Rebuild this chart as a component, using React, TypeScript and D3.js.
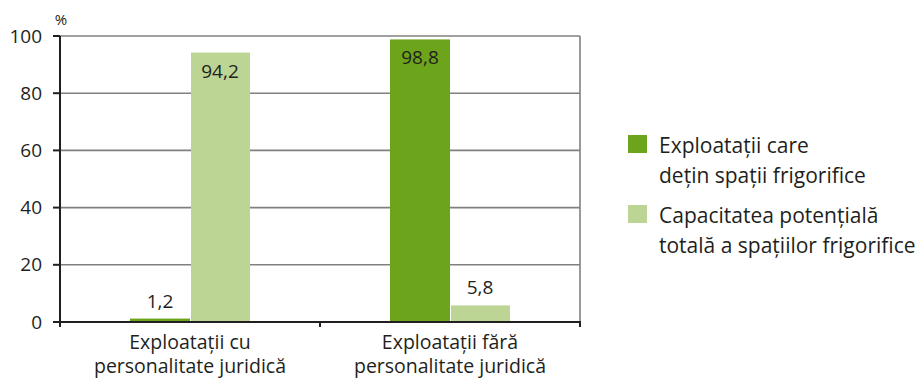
import { useEffect, useRef } from "react"
import * as d3 from "d3"

const categories = [
  ["Exploatații cu", "personalitate juridică"],
  ["Exploatații fără", "personalitate juridică"],
]
const seriesNames = [
  ["Exploatații care", "dețin spații frigorifice"],
  ["Capacitatea potențială", "totală a spațiilor frigorifice"],
]
const holdingsWithCold = [1.2, 98.8]
const potentialCapacity = [94.2, 5.8]
const yTicks = [0, 20, 40, 60, 80, 100]
const colors = ["#6ca51b", "#bcd595"]

const font = "'Open Sans', sans-serif"

export default function App() {
  const ref = useRef<SVGSVGElement>(null)

  useEffect(() => {
    const svg = d3.select(ref.current)
    svg.selectAll("*").remove()

    const left = 60, right = 580, top = 36, bottom = 322

    const x0 = d3.scaleBand<number>().domain(categories.map((_, i) => i)).range([left, right])
    const x1 = d3.scaleBand<number>().domain([0, 1]).range([70, 190])
    const y = d3.scaleLinear().domain([0, 100]).range([bottom, top])

    const series = [holdingsWithCold, potentialCapacity]

    // gridlines
    svg
      .append("g")
      .selectAll("line")
      .data(yTicks.filter((t) => t > 0))
      .enter()
      .append("line")
      .attr("x1", left)
      .attr("x2", right)
      .attr("y1", (d) => y(d))
      .attr("y2", (d) => y(d))
      .attr("stroke", "#808080")
      .attr("stroke-width", 1.6)

    // right border
    svg
      .append("line")
      .attr("x1", right)
      .attr("x2", right)
      .attr("y1", top)
      .attr("y2", bottom)
      .attr("stroke", "#808080")
      .attr("stroke-width", 1.6)

    // bars
    series.forEach((vals, s) => {
      svg
        .append("g")
        .selectAll("rect")
        .data(vals)
        .enter()
        .append("rect")
        .attr("x", (_, i) => (x0(i) || 0) + (x1(s) || 0) + (s === 1 ? 1 : 0))
        .attr("width", x1.bandwidth() - (s === 1 ? 1 : 0))
        .attr("y", (d) => y(d))
        .attr("height", (d) => bottom - y(d))
        .attr("fill", colors[s])
    })

    // value labels
    series.forEach((vals, s) => {
      svg
        .append("g")
        .selectAll("text")
        .data(vals)
        .enter()
        .append("text")
        .attr("x", (_, i) => (x0(i) || 0) + (x1(s) || 0) + x1.bandwidth() / 2)
        .attr("y", (d) => (d > 90 ? y(d) + 25 : y(d) - 11))
        .attr("text-anchor", "middle")
        .attr("font-family", font)
        .attr("font-size", 19)
        .attr("fill", "#231f20")
        .text((d) => d.toFixed(1).replace(".", ","))
    })

    // y axis
    svg
      .append("line")
      .attr("x1", left)
      .attr("x2", left)
      .attr("y1", top)
      .attr("y2", bottom + 1)
      .attr("stroke", "#231f20")
      .attr("stroke-width", 2)
    const yt = svg.append("g")
    yTicks.forEach((t) => {
      yt.append("line")
        .attr("x1", 53)
        .attr("x2", left)
        .attr("y1", y(t))
        .attr("y2", y(t))
        .attr("stroke", "#231f20")
        .attr("stroke-width", 2)
      yt.append("text")
        .attr("x", 42)
        .attr("y", y(t) + 6.5)
        .attr("text-anchor", "end")
        .attr("font-family", font)
        .attr("font-size", 19)
        .attr("fill", "#231f20")
        .text(t)
    })
    svg
      .append("text")
      .attr("x", 61)
      .attr("y", 25)
      .attr("text-anchor", "middle")
      .attr("font-family", font)
      .attr("font-size", 15)
      .attr("fill", "#231f20")
      .text("%")

    // x axis
    svg
      .append("line")
      .attr("x1", left)
      .attr("x2", right + 1)
      .attr("y1", bottom)
      .attr("y2", bottom)
      .attr("stroke", "#231f20")
      .attr("stroke-width", 2)
    const xTickPos = [left, ...categories.map((_, i) => (x0(i) || 0) + x0.bandwidth())]
    svg
      .append("g")
      .selectAll("line")
      .data(xTickPos)
      .enter()
      .append("line")
      .attr("x1", (d) => d)
      .attr("x2", (d) => d)
      .attr("y1", bottom)
      .attr("y2", bottom + 5)
      .attr("stroke", "#231f20")
      .attr("stroke-width", 2)
    categories.forEach((lines, i) => {
      const t = svg
        .append("text")
        .attr("text-anchor", "middle")
        .attr("font-family", font)
        .attr("font-size", 19.5)
        .attr("fill", "#231f20")
      lines.forEach((l, k) => {
        t.append("tspan")
          .attr("x", (x0(i) || 0) + x0.bandwidth() / 2)
          .attr("y", 349 + k * 24)
          .text(l)
      })
    })

    // legend
    seriesNames.forEach((lines, s) => {
      const ly = 135 + s * 70
      svg
        .append("rect")
        .attr("x", 628)
        .attr("y", ly)
        .attr("width", 19)
        .attr("height", 18)
        .attr("fill", colors[s])
      const t = svg
        .append("text")
        .attr("font-family", font)
        .attr("font-size", 21)
        .attr("fill", "#231f20")
      lines.forEach((l, k) => {
        t.append("tspan")
          .attr("x", 659)
          .attr("y", ly + 18 + k * 30)
          .text(l)
      })
    })
  }, [])

  return (
    <svg
      ref={ref}
      width={922}
      height={379}
      style={{ position: "absolute", left: 0, top: 0, background: "#fff" }}
    />
  )
}
